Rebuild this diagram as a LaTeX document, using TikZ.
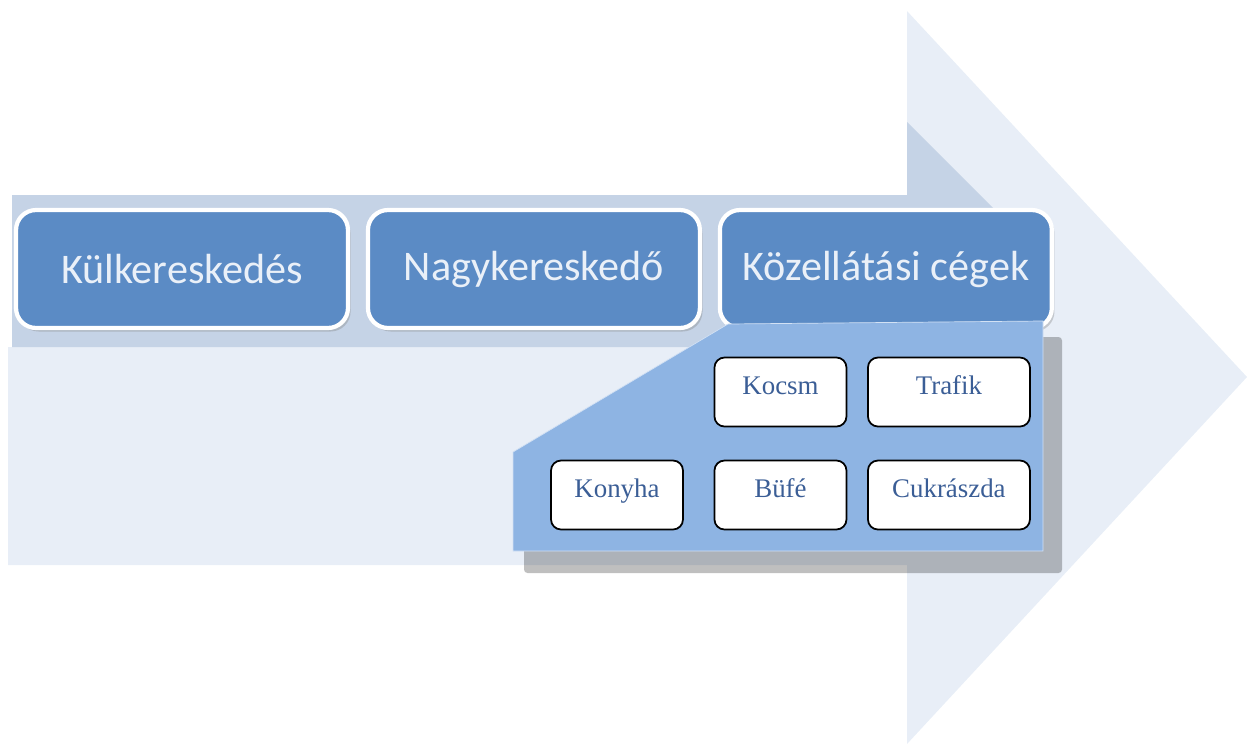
\documentclass[tikz,border=0pt]{standalone}
\usepackage{fontspec}
\setmainfont{Liberation Serif}
\newfontfamily\boxfont{Carlito}
\usetikzlibrary{positioning,shadows}

\definecolor{arrowbg}{RGB}{232,238,247}
\definecolor{bandbg}{RGB}{197,211,230}
\definecolor{stepblue}{RGB}{91,139,197}
\definecolor{steptext}{RGB}{234,240,248}
\definecolor{panelblue}{RGB}{142,180,227}
\definecolor{unittext}{RGB}{59,94,150}

\begin{document}
\begin{tikzpicture}[x=0.02cm,y=-0.02cm,node distance=7.04cm]

\tikzstyle{stage}=[draw=white,line width=2.4pt,fill=stepblue,rounded corners=0.4cm,minimum width=6.64cm,minimum height=2.36cm,text=steptext,font=\boxfont\fontsize{24}{28}\selectfont,drop shadow={shadow xshift=1.5pt,shadow yshift=-2pt,opacity=0.35}]
\tikzstyle{unit}=[draw=black,line width=1pt,fill=white,rounded corners=0.2cm,minimum width=2.64cm,minimum height=1.38cm,text height=0.4cm,text depth=0.3cm,text=unittext,font=\fontsize{15.3}{18}\selectfont]

\useasboundingbox (0,0) rectangle (1247,744);

%background arrow
\fill [arrowbg] (8,565) -- (8,347) -- (12,347) -- (12,195) -- (907,195) -- (907,11) -- (1247,377) -- (907,744) -- (907,565) -- cycle;
\fill [bandbg] (12,195) -- (907,195) -- (907,122) -- (998,213) -- (998,347) -- (12,347) -- cycle;

%stages
\node [stage] (kulker) at (182,269) {Külkereskedés};
\node [stage] (nagyker) [right of=kulker] {Nagykereskedő};
\node [stage] (kozell) [right of=nagyker] {Közellátási cégek};

%panel under the last stage
\fill [black,opacity=0.25,rounded corners=2pt] (524,470) -- (745,340) -- (1062,337) -- (1062,573) -- (524,573) -- cycle;
\draw [white!60!panelblue,fill=panelblue] (513,452) -- (728,324) -- (1043,321) -- (1043,551) -- (513,551) -- cycle;

%units
\node [unit] (konyha) at (617,495) {Konyha};
\node [unit,node distance=3.27cm] (bufe) [right of=konyha] {Büfé};
\node [unit,node distance=3.37cm,minimum width=3.24cm] (cukr) [right of=bufe] {Cukrászda};

\node [unit,node distance=2.06cm] (kocsm) [above of=bufe] {Kocsm};
\node [unit,node distance=2.06cm,minimum width=3.24cm] (trafik) [above of=cukr] {Trafik};

\end{tikzpicture}
\end{document}
